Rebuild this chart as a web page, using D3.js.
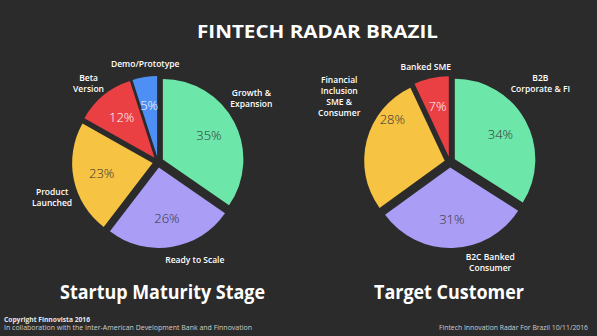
<!DOCTYPE html>
<html><head><meta charset="utf-8">
<script src="https://cdn.jsdelivr.net/npm/d3@7"></script>
<style>html,body{margin:0;padding:0;background:#2b2b2b;}svg{display:block;}</style>
</head><body>
<svg id="c" width="597" height="336"></svg>
<script>
// ---- data ----
const maturityCategories = ["Growth &\nExpansion", "Ready to Scale", "Product\nLaunched", "Beta\nVersion", "Demo/Prototype"];
const maturityValues = [35, 26, 23, 12, 5];
const customerCategories = ["B2B\nCorporate & FI", "B2C Banked\nConsumer", "Financial\nInclusion\nSME &\nConsumer", "Banked SME"];
const customerValues = [34, 31, 28, 7];
const titleText = "FINTECH RADAR BRAZIL";
const chartTitles = ["Startup Maturity Stage", "Target Customer"];

// ---- layout / style (not data) ----
const W = 597, H = 336;
const svg = d3.select("#c");
svg.append("rect").attr("width", W).attr("height", H).attr("fill", "#2b2b2b");
const FONT = "'Open Sans', 'DejaVu Sans', sans-serif";
const R = 80.5, EXPLODE = 5.5, PCT_R = 52, LABEL_R = 102 - EXPLODE;

const pies = [
  { cx: 158, cy: 162, cats: maturityCategories, vals: maturityValues,
    colors: ["#6de6a9", "#a99df6", "#f6c343", "#ea4044", "#4d8ff4"],
    pctColors: ["#333", "#333", "#333", "#fff", "#fff"],
    labelNudge: [[3, -16], [21, -3], [-6, 15.5], [-5, 0.5], [3, 3]],
    pctNudge: [[0, 0], [0, 0], [0, 0], [0, 0], [0, 0]] },
  { cx: 450, cy: 162, cats: customerCategories, vals: customerValues,
    colors: ["#6de6a9", "#a99df6", "#f6c343", "#ea4044"],
    pctColors: ["#333", "#333", "#333", "#fff"],
    labelNudge: [[1, -29], [37, -1.5], [-12, -40], [-2, 4.5]],
    pctNudge: [[0, 0], [0, 0], [-2, -28], [0, 0]] }
];

const pieGen = d3.pie().sort(null).value(d => d);
const arc = d3.arc().innerRadius(0).outerRadius(R);
const dir = a => [Math.sin(a), -Math.cos(a)];

pies.forEach(p => {
  const g = svg.append("g").attr("transform", `translate(${p.cx},${p.cy})`);
  const arcs = pieGen(p.vals);
  arcs.forEach((a, i) => {
    const mid = (a.startAngle + a.endAngle) / 2;
    const [dx, dy] = dir(mid);
    const sg = g.append("g").attr("transform", `translate(${dx * EXPLODE},${dy * EXPLODE})`);
    sg.append("path").attr("d", arc(a)).attr("fill", p.colors[i]);
    // percent label
    sg.append("text")
      .attr("x", dx * PCT_R + p.pctNudge[i][0])
      .attr("y", dy * PCT_R + p.pctNudge[i][1])
      .attr("text-anchor", "middle").attr("dy", "0.36em")
      .attr("font-family", FONT).attr("font-weight", 300).attr("font-size", 13)
      .attr("fill", p.pctColors[i])
      .text(a.data + "%");
    // category label
    const lines = p.cats[i].split("\n");
    const lx = dx * LABEL_R + p.labelNudge[i][0];
    const ly = dy * LABEL_R + p.labelNudge[i][1];
    const lh = 11;
    const t = sg.append("text")
      .attr("text-anchor", "middle")
      .attr("font-family", FONT).attr("font-weight", 600).attr("font-size", 8.5)
      .attr("fill", "#ffffff");
    lines.forEach((ln, k) => {
      t.append("tspan").attr("x", lx)
        .attr("y", ly + (k - (lines.length - 1) / 2) * lh)
        .attr("dy", "0.35em").text(ln);
    });
  });
});

// title
svg.append("text").attr("x", 317.5).attr("y", 38).attr("text-anchor", "middle")
  .attr("font-family", FONT).attr("font-weight", 700).attr("font-size", 18)
  .attr("fill", "#fff").attr("textLength", 241).attr("lengthAdjust", "spacingAndGlyphs")
  .text(titleText);

// chart titles
svg.append("text").attr("x", 162.5).attr("y", 299).attr("text-anchor", "middle")
  .attr("font-family", FONT).attr("font-weight", 700).attr("font-size", 19)
  .attr("fill", "#fff").attr("textLength", 205).attr("lengthAdjust", "spacingAndGlyphs")
  .text(chartTitles[0]);
svg.append("text").attr("x", 449).attr("y", 299).attr("text-anchor", "middle")
  .attr("font-family", FONT).attr("font-weight", 700).attr("font-size", 19)
  .attr("fill", "#fff").attr("textLength", 150).attr("lengthAdjust", "spacingAndGlyphs")
  .text(chartTitles[1]);

// footer
svg.append("text").attr("x", 4).attr("y", 321.5)
  .attr("font-family", FONT).attr("font-weight", 700).attr("font-size", 6.5)
  .attr("fill", "#e6e6e6").attr("textLength", 86).attr("lengthAdjust", "spacingAndGlyphs")
  .text("Copyright Finnovista 2016");
svg.append("text").attr("x", 4).attr("y", 330)
  .attr("font-family", FONT).attr("font-weight", 400).attr("font-size", 6.5)
  .attr("fill", "#cfcfcf").attr("textLength", 248).attr("lengthAdjust", "spacingAndGlyphs")
  .text("In collaboration with the Inter-American Development Bank and Finnovation");
svg.append("text").attr("x", 588).attr("y", 330).attr("text-anchor", "end")
  .attr("font-family", FONT).attr("font-weight", 400).attr("font-size", 6.5)
  .attr("fill", "#cfcfcf").attr("textLength", 149).attr("lengthAdjust", "spacingAndGlyphs")
  .text("Fintech Innovation Radar For Brazil 10/11/2016");
</script>
</body></html>
